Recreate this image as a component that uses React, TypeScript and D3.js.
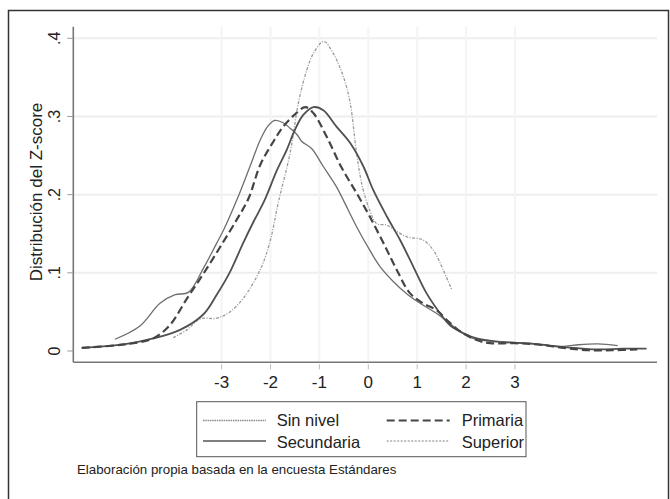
import React from "react";
import * as d3 from "d3";

const xTicks = [-3, -2, -1, 0, 1, 2, 3];
const yTicks = [0, 0.1, 0.2, 0.3, 0.4];
const yTickLabels = ["0", ".1", ".2", ".3", ".4"];

const sinNivel: [number, number][] = [
  [-5.18, 0.015], [-4.67, 0.032], [-4.26, 0.061], [-3.95, 0.072], [-3.68, 0.075],
  [-3.37, 0.106], [-3.1, 0.138], [-2.95, 0.156], [-2.69, 0.193], [-2.42, 0.236],
  [-2.21, 0.27], [-2.05, 0.288], [-1.91, 0.295], [-1.74, 0.292], [-1.6, 0.285],
  [-1.46, 0.277], [-1.36, 0.268], [-1.16, 0.259], [-0.92, 0.236], [-0.65, 0.21],
  [-0.51, 0.193], [-0.24, 0.159], [0.03, 0.129], [0.24, 0.108], [0.51, 0.089],
  [0.79, 0.073], [1.06, 0.061], [1.4, 0.048], [1.67, 0.035], [1.94, 0.022],
  [2.2, 0.015], [2.7, 0.012], [3.4, 0.009], [4.0, 0.006], [4.3, 0.008],
  [4.7, 0.009], [5.1, 0.007],
];

const primaria: [number, number][] = [
  [-5.86, 0.004], [-5.2, 0.007], [-4.8, 0.01], [-4.4, 0.016], [-4.06, 0.033],
  [-3.7, 0.068], [-3.37, 0.099], [-3.03, 0.133], [-2.69, 0.168], [-2.45, 0.195],
  [-2.21, 0.238], [-1.94, 0.268], [-1.74, 0.287], [-1.53, 0.301], [-1.29, 0.312],
  [-1.12, 0.304], [-0.85, 0.274], [-0.55, 0.235], [-0.24, 0.202], [0.03, 0.172],
  [0.31, 0.138], [0.58, 0.104], [0.85, 0.074], [1.12, 0.061], [1.4, 0.052],
  [1.6, 0.04], [1.88, 0.025], [2.22, 0.014], [2.49, 0.01], [3.0, 0.01],
  [3.5, 0.008], [4.0, 0.004], [4.5, 0.001], [5.0, 0.001], [5.5, 0.002],
];

const secundaria: [number, number][] = [
  [-5.86, 0.004], [-4.94, 0.009], [-4.4, 0.016], [-3.85, 0.027], [-3.37, 0.047],
  [-3.1, 0.072], [-2.83, 0.101], [-2.56, 0.138], [-2.35, 0.165], [-2.12, 0.193],
  [-1.87, 0.231], [-1.67, 0.257], [-1.5, 0.283], [-1.33, 0.302], [-1.12, 0.312],
  [-0.92, 0.308], [-0.65, 0.287], [-0.37, 0.266], [-0.1, 0.236], [0.1, 0.206],
  [0.38, 0.172], [0.65, 0.142], [0.92, 0.108], [1.19, 0.074], [1.47, 0.048],
  [1.67, 0.033], [1.94, 0.023], [2.22, 0.016], [2.63, 0.012], [3.4, 0.009],
  [4.0, 0.005], [4.7, 0.002], [5.2, 0.003], [5.69, 0.003],
];

const superior: [number, number][] = [
  [-3.99, 0.017], [-3.71, 0.027], [-3.44, 0.041], [-3.1, 0.042], [-2.83, 0.05],
  [-2.55, 0.068], [-2.21, 0.104], [-2.01, 0.14], [-1.84, 0.19], [-1.6, 0.253],
  [-1.43, 0.317], [-1.26, 0.359], [-1.12, 0.381], [-0.91, 0.396], [-0.72, 0.381],
  [-0.51, 0.351], [-0.37, 0.317], [-0.24, 0.253], [-0.12, 0.21], [0.03, 0.18],
  [0.17, 0.163], [0.38, 0.161], [0.58, 0.153], [0.79, 0.146], [1.12, 0.142],
  [1.33, 0.129], [1.53, 0.104], [1.71, 0.078],
];

const seriesNames = ["Sin nivel", "Primaria", "Secundaria", "Superior"];

const W = 670;
const H = 499;
const plotLeft = 73.3;
const plotRight = 657;
const plotTop = 26.7;
const plotBottom = 362.3;

const FONT = "'Liberation Sans', Arial, Helvetica, sans-serif";

const styles: Record<string, { stroke: string; width: number; dash?: string }> = {
  "Sin nivel": { stroke: "#6e6e6e", width: 1.3 },
  Primaria: { stroke: "#454545", width: 2.2, dash: "8,4" },
  Secundaria: { stroke: "#505050", width: 1.8 },
  Superior: { stroke: "#9a9a9a", width: 1.3, dash: "3,1.5,1,1.5" },
};

const legendStyles: Record<string, { stroke: string; width: number; dash?: string }> = {
  "Sin nivel": { stroke: "#8a8a8a", width: 1.4, dash: "1.5,0.8" },
  Primaria: { stroke: "#454545", width: 2.2, dash: "8,4" },
  Secundaria: { stroke: "#555", width: 1.4 },
  Superior: { stroke: "#aaa", width: 1.3, dash: "2,1.5" },
};

function HText(props: { x: number; y: number; size: number; anchor?: string; children: string; fill?: string }) {
  const { x, y, size, anchor = "start", children, fill = "#222" } = props;
  return (
    <text x={x} y={y} fontSize={size} fontFamily={FONT} textAnchor={anchor} fill={fill}>
      {children}
    </text>
  );
}

export default function App() {
  const x = d3.scaleLinear().domain([-3, 3]).range([221.6, 515]);
  const y = d3.scaleLinear().domain([0, 0.4]).range([351, 38.3]);

  const line = d3
    .line<[number, number]>()
    .x((d) => x(d[0]))
    .y((d) => y(d[1]))
    .curve(d3.curveCatmullRom.alpha(0.5));

  const data: Record<string, [number, number][]> = {
    "Sin nivel": sinNivel,
    Primaria: primaria,
    Secundaria: secundaria,
    Superior: superior,
  };

  const drawOrder = ["Superior", "Sin nivel", "Secundaria", "Primaria"];

  const legendItems = [
    { name: seriesNames[0], lx: 203, tx: 276.7, ly: 420.5, ty: 425.5 },
    { name: seriesNames[1], lx: 386.7, tx: 461.7, ly: 420.5, ty: 425.5 },
    { name: seriesNames[2], lx: 203, tx: 276.7, ly: 441, ty: 447.5 },
    { name: seriesNames[3], lx: 386.7, tx: 461.7, ly: 441, ty: 447.5 },
  ];

  return (
    <svg
      width={W}
      height={H}
      style={{ position: "absolute", left: 0, top: 0, background: "#fff" }}
    >
      <rect x={0} y={0} width={W} height={H} fill="#fff" />
      {/* outer frame */}
      <rect x={8.5} y={10.5} width={660} height={H + 20} fill="none" stroke="#333" strokeWidth={1.5} />

      {/* grid */}
      {yTicks.slice(1).map((t) => (
        <line key={"gy" + t} x1={plotLeft} x2={plotRight} y1={y(t)} y2={y(t)} stroke="#eeeeee" strokeWidth={2} />
      ))}
      {xTicks.map((t) => (
        <line key={"gx" + t} x1={x(t)} x2={x(t)} y1={plotTop} y2={plotBottom} stroke="#f4f4f4" strokeWidth={2} />
      ))}

      {/* curves */}
      {drawOrder.map((name) => {
        const s = styles[name];
        return (
          <path
            key={name}
            d={line(data[name]) || ""}
            fill="none"
            stroke={s.stroke}
            strokeWidth={s.width}
            strokeDasharray={s.dash}
            strokeLinejoin="round"
          />
        );
      })}

      {/* axes */}
      <line x1={plotLeft} x2={plotLeft} y1={plotTop} y2={plotBottom} stroke="#777" strokeWidth={1.6} />
      <line x1={plotLeft} x2={plotRight} y1={plotBottom} y2={plotBottom} stroke="#777" strokeWidth={1.6} />

      {/* y ticks */}
      {yTicks.map((t, i) => (
        <g key={"yt" + t}>
          <line x1={plotLeft - 6} x2={plotLeft} y1={y(t)} y2={y(t)} stroke="#999" strokeWidth={1} />
          <text
            transform={`translate(60,${y(t)}) rotate(-90)`}
            fontSize={16}
            fontFamily={FONT}
            textAnchor="middle"
            fill="#222"
          >
            {yTickLabels[i]}
          </text>
        </g>
      ))}
      <text
        transform={`translate(42,192) rotate(-90)`}
        fontSize={17}
        fontFamily={FONT}
        textAnchor="middle"
        fill="#222"
      >
        Distribución del Z-score
      </text>

      {/* x ticks */}
      {xTicks.map((t) => (
        <g key={"xt" + t}>
          <line x1={x(t)} x2={x(t)} y1={plotBottom + 2} y2={plotBottom + 7} stroke="#bbb" strokeWidth={1} />
          <HText x={x(t)} y={388} size={17} anchor="middle">
            {String(t)}
          </HText>
        </g>
      ))}

      {/* legend */}
      <rect x={196.7} y={401.7} width={329.3} height={55} fill="#fff" stroke="#555" strokeWidth={1} />
      {legendItems.map((it) => {
        const s = legendStyles[it.name];
        return (
          <g key={"lg" + it.name}>
            <line
              x1={it.lx}
              x2={it.lx + 63}
              y1={it.ly}
              y2={it.ly}
              stroke={s.stroke}
              strokeWidth={s.width}
              strokeDasharray={s.dash}
            />
            <HText x={it.tx} y={it.ty} size={16.5}>
              {it.name}
            </HText>
          </g>
        );
      })}

      {/* note */}
      <HText x={77} y={474} size={13.3}>
        Elaboración propia basada en la encuesta Estándares
      </HText>
    </svg>
  );
}
